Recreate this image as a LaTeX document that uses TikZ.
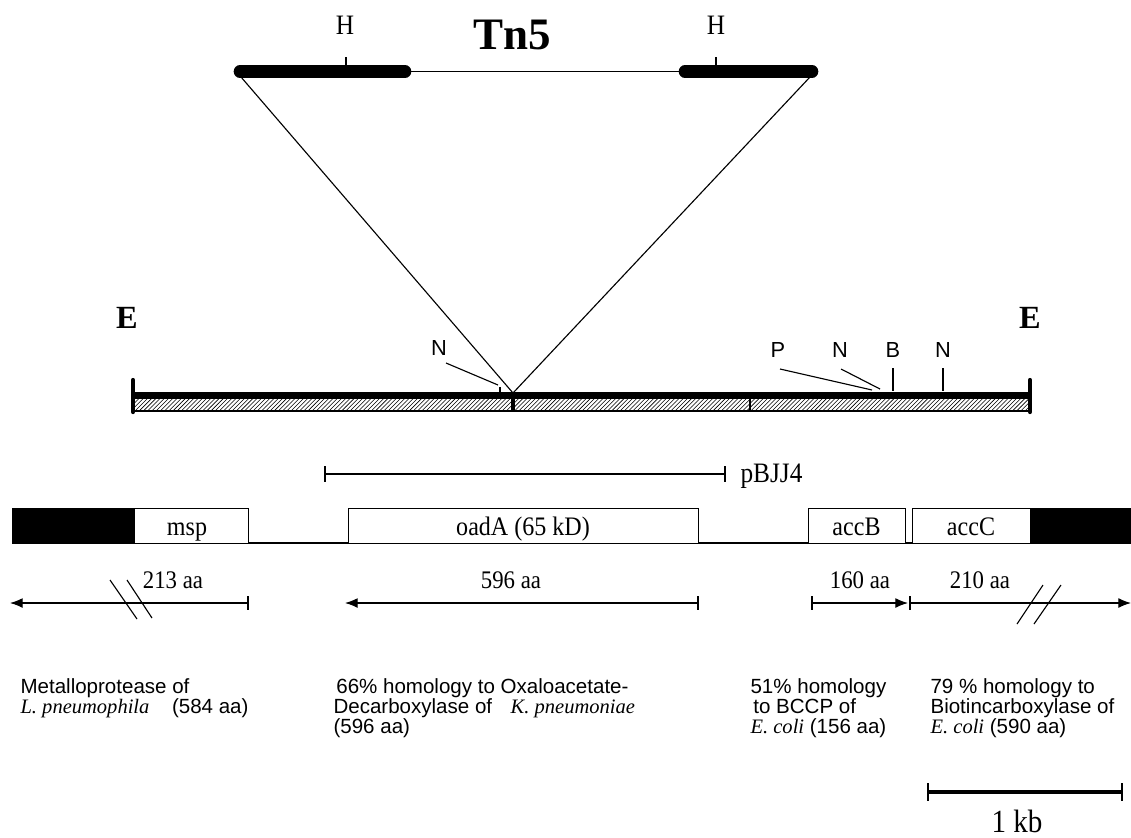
\documentclass[tikz,border=0pt]{standalone}
\usepackage{fontspec}
\setmainfont{Liberation Serif}
\newfontfamily\arialfont{Liberation Sans}
\newfontfamily\narrowfont[FakeStretch=0.9]{Liberation Serif}
\usetikzlibrary{arrows.meta,patterns,positioning,calc}
\tikzset{>={Latex[length=9pt,width=7pt]}}
\tikzset{
  thickbar/.style={line width=9pt, line cap=round},
  genebox/.style={draw, line width=0.7pt, fill=white},
  sitelabel/.style={font=\arialfont\fontsize{15.5}{15.5}\selectfont},
  aalabel/.style={font=\narrowfont\fontsize{18}{18}\selectfont, anchor=base},
  genelabel/.style={font=\narrowfont\fontsize{19}{19}\selectfont, anchor=base},
  desc/.style={font=\arialfont\fontsize{14.6}{14.2}\selectfont, align=left, anchor=north west},
  bigbold/.style={font=\bfseries\fontsize{23}{23}\selectfont},
}

\begin{document}
\begin{tikzpicture}[x=0.025cm, y=-0.025cm, line width=0.8pt,
    every node/.style={inner sep=0pt}]
  \useasboundingbox (0,0) rectangle (1131,837);

  % Tn5 on top
  \node[font=\bfseries\fontsize{32}{32}\selectfont] (tn5) at (512,35) {Tn5};
  \node[font=\narrowfont\fontsize{20}{20}\selectfont] (hl) at (345,25) {H};
  \node[font=\narrowfont\fontsize{20}{20}\selectfont] (hr) at (716,25) {H};
  \draw[thickbar] (240,71.5) -- (405,71.5);
  \draw (405,71.5) -- (685,71.5);
  \draw[thickbar] (685,71.5) -- (812,71.5);
  \draw (346,57) -- (346,66);
  \draw (716,57) -- (716,66);
  \coordinate (tnl) at (241,77);
  \coordinate (tnr) at (810,77);
  \coordinate (ins) at (513,393);
  \draw (tnl) -- (ins) -- (tnr);

  % EcoRI fragment
  \node[bigbold] (el) at (127,318) {E};
  \node[bigbold] (er) at (1030,318) {E};
  \fill[pattern=north east lines] (133,399) rectangle (1030,410);
  \draw[line width=4.3pt] (133,395.5) -- (1030,395.5);
  \draw[line width=1.8pt] (133,411) -- (1030,411);
  \draw[line width=3pt, line cap=round] (133,380) -- (133,412);
  \draw[line width=3pt, line cap=round] (1030,380) -- (1030,412);
  \draw[line width=3.5pt] (513,393) -- (513,412);
  \draw[line width=1pt] (750,396) -- (750,411);

  % restriction sites
  \node[sitelabel] (nl) at (439,348) {N};
  \coordinate (snl) at (498,385);
  \draw (446,363) -- (snl);
  \draw (500,387) -- (500,393);
  \node[sitelabel] (p) at (778,350) {P};
  \coordinate (sp) at (872,390);
  \draw (780,369) -- (sp);
  \node[sitelabel] (nm) at (840,350) {N};
  \coordinate (snm) at (880,389);
  \draw (841,369) -- (snm);
  \foreach \x/\n in {893/B, 943/N} {
    \node[sitelabel] (site\x) at (\x,350) {\n};
    \draw (\x,368) -- (\x,391);
  }

  % pBJJ4
  \draw[line width=2pt] (325,474) -- (725,474);
  \draw[line width=2pt] (325,466) -- (325,482);
  \draw[line width=2pt] (725,466) -- (725,482);
  \node[font=\narrowfont\fontsize{20}{20}\selectfont, anchor=west] (pbjj) at (740,476) {pBJJ4};

  % gene map
  \draw (12,543) -- (1131,543);
  \fill (12,508) rectangle (135,543);
  \fill (1030,508) rectangle (1131,543);
  \draw[genebox] (134,508) rectangle (248,543);
  \node[genelabel] (msp) at (187,535) {msp};
  \draw[genebox] (348,508) rectangle (698,543);
  \node[genelabel] (oad) at (523,535) {oadA (65 kD)};
  \draw[genebox] (808,508) rectangle (905,543);
  \node[genelabel] (accb) at (856.5,535) {accB};
  \draw[genebox] (912,508) rectangle (1030,543);
  \node[genelabel] (accc) at (971,535) {accC};

  % reading frames
  \node[aalabel] (aa1) at (173,588) {213 aa};
  \draw[->] (248,603) -- (10,603);
  \draw (248,596) -- (248,610);
  \draw (110,580) -- (137,619);
  \draw (127,580) -- (152,618);
  \node[aalabel] (aa2) at (511,588) {596 aa};
  \draw[->] (698,603) -- (345,603);
  \draw (698,596) -- (698,610);
  \node[aalabel] (aa3) at (860,588) {160 aa};
  \draw[->] (812,603) -- (908,603);
  \draw (812,596) -- (812,610);
  \node[aalabel] (aa4) at (980,588) {210 aa};
  \draw[->] (910,603) -- (1131,603);
  \draw (910,596) -- (910,610);
  \draw (1017,624) -- (1043,585);
  \draw (1034,624) -- (1061,585);

  % homologies
  \node[desc] (d1) at (20,678) {Metalloprotease of\\
    {\rmfamily\itshape L. pneumophila}\hspace{1.1em}(584 aa)};
  \node[desc] (d2) at (333,678) {\hspace{2pt}66\% homology to Oxaloacetate-\\
    Decarboxylase of\hspace{0.9em}{\rmfamily\itshape K. pneumoniae}\\(596 aa)};
  \node[desc] (d3) at (750,678) {51\% homology\\
    \hspace{2pt}to BCCP of\\{\rmfamily\itshape E. coli} (156 aa)};
  \node[desc] (d4) at (930,678) {79 \% homology to\\
    Biotincarboxylase of\\{\rmfamily\itshape E. coli} (590 aa)};

  % scale
  \draw[line width=2.4pt] (928,792) -- (1122,792);
  \draw[line width=2pt] (928,783) -- (928,801);
  \draw[line width=2pt] (1122,783) -- (1122,801);
  \node[font=\narrowfont\fontsize{23}{23}\selectfont] (kb) at (1017,821) {1 kb};
\end{tikzpicture}
\end{document}
